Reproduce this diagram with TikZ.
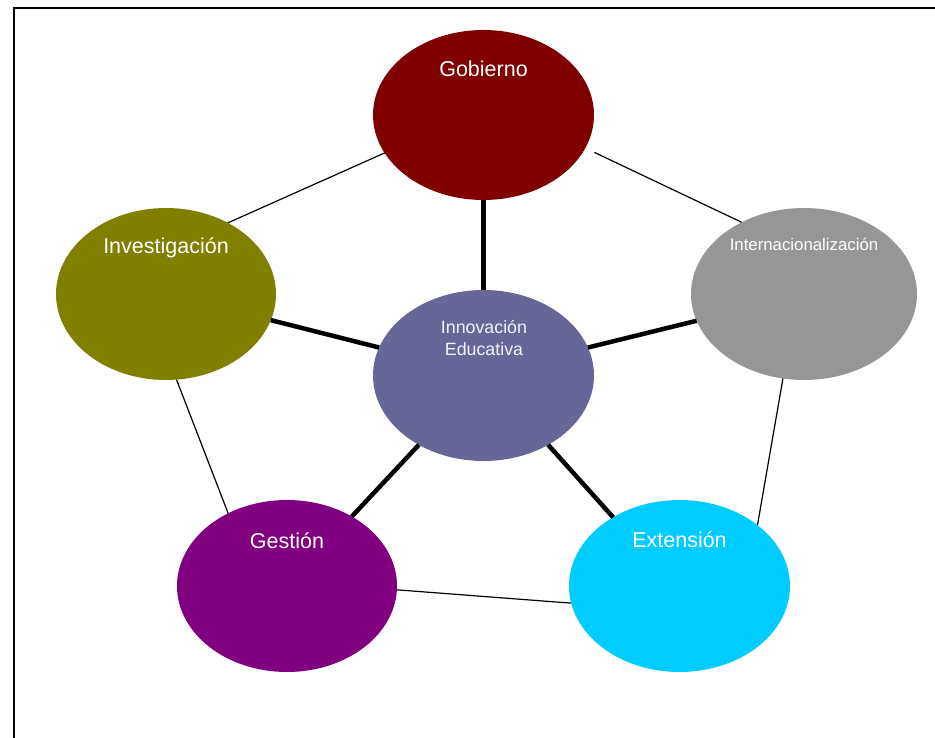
\documentclass[tikz,border=0pt]{standalone}
\usepackage{fontspec}
\setmainfont{Liberation Sans}
\usetikzlibrary{shapes.geometric}
\definecolor{cGob}{HTML}{800000}
\definecolor{cInv}{HTML}{808000}
\definecolor{cInt}{HTML}{969696}
\definecolor{cInn}{HTML}{666699}
\definecolor{cGes}{HTML}{800080}
\definecolor{cExt}{HTML}{00CCFF}
\tikzset{
  blob/.style={ellipse, draw=none, inner sep=0pt, outer sep=0pt},
  lbl/.style={text=white, inner sep=0pt, font=\fontsize{21.5}{25}\selectfont},
  thinlink/.style={line width=1.2pt, black},
  thicklink/.style={line width=4.5pt, black}
}
\begin{document}
\begin{tikzpicture}[x=1pt, y=-1pt]
\useasboundingbox (0,0) rectangle (935,738);
\fill[white] (0,0) rectangle (935,738);
\draw[line width=2pt] (14,738) -- (14,8) -- (935,8);

\node[blob, fill=cGob, minimum width=221pt, minimum height=170pt] (gob) at (483.5,115) {};
\node[blob, fill=cInv, minimum width=220pt, minimum height=172pt] (inv) at (166,294) {};
\node[blob, fill=cInt, minimum width=226pt, minimum height=172pt] (int) at (804,294) {};
\node[blob, fill=cInn, minimum width=221pt, minimum height=171pt] (inn) at (483.5,375.5) {};
\node[blob, fill=cGes, minimum width=220pt, minimum height=172pt] (ges) at (287,586) {};
\node[blob, fill=cExt, minimum width=221pt, minimum height=172pt] (ext) at (679.5,586) {};

\node[lbl] (gobT) at (483.5,69) {Gobierno};
\node[lbl] (invT) at (166,248) {Investigación};
\node[lbl, font=\fontsize{16.8}{20}\selectfont] (intT) at (804,244) {Internacionalización};
\node[lbl, font=\fontsize{17.8}{22}\selectfont, align=center, text=white!92!cInn] (innT) at (484,338) {Innovación\\Educativa};
\node[lbl] (gesT) at (287,541) {Gestión};
\node[lbl] (extT) at (679.5,540) {Extensión};

% thick spokes
\draw[thicklink] (gob.south) -- (inn.north);
\draw[thicklink] (inv.-14) -- (inn.165);
\draw[thicklink] (int.194) -- (inn.15);
\draw[thicklink] (ges.47) -- (inn.227);
\draw[thicklink] (ext.134) -- (inn.313);

% pentagon ring
\draw[thinlink] (gob.201) -- (inv.49);
\draw[thinlink, shorten <=10pt] (gob.342) -- (int.131);
\draw[thinlink] (int.256) -- (ext.38);
\draw[thinlink] (ext.189) -- (ges.358);
\draw[thinlink] (ges.129) -- (inv.277);
\end{tikzpicture}
\end{document}
